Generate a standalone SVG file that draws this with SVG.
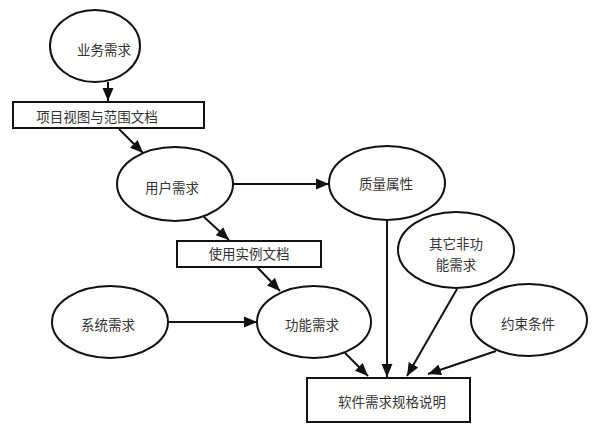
<svg xmlns="http://www.w3.org/2000/svg" width="609" height="438" viewBox="0 0 609 438">
<style>
.n{fill:#fff;stroke:#111;stroke-width:2}
.t{font-family:"Noto Sans CJK SC","Liberation Sans",sans-serif;font-size:13.5px;fill:#333;text-anchor:middle;dominant-baseline:central}
.c{stroke:#111;stroke-width:2;fill:none;marker-end:url(#ah)}
</style>
<defs>
<marker id="ah" markerUnits="userSpaceOnUse" markerWidth="14" markerHeight="14" viewBox="0 0 14 14" refX="13" refY="7" orient="auto">
<path d="M0,1.5 L13,7 L0,12.5 Z" fill="#111"/>
</marker>
</defs>
<rect width="609" height="438" fill="#fff"/>
<g id="connectors">
<line class="c" x1="108" y1="82" x2="108" y2="101"/>
<line class="c" x1="119" y1="129" x2="143" y2="153"/>
<line class="c" x1="233" y1="184" x2="329" y2="184"/>
<line class="c" x1="204" y1="217" x2="229" y2="240"/>
<line class="c" x1="257" y1="267" x2="280" y2="291"/>
<line class="c" x1="168" y1="322" x2="257" y2="322"/>
<line class="c" x1="387" y1="220" x2="387" y2="377"/>
<line class="c" x1="345" y1="353" x2="368" y2="376"/>
<line class="c" x1="457" y1="289" x2="407" y2="376"/>
<line class="c" x1="496" y1="351" x2="428" y2="374"/>
</g>
<g id="n1"><ellipse class="n" cx="95" cy="46" rx="45" ry="36"/><text class="t" x="104" y="49">业务需求</text></g>
<g id="n2"><rect class="n" x="13" y="102" width="191" height="26"/><text class="t" x="97" y="116">项目视图与范围文档</text></g>
<g id="n3"><ellipse class="n" cx="175" cy="184" rx="58" ry="37"/><text class="t" x="172" y="187">用户需求</text></g>
<g id="n4"><ellipse class="n" cx="387" cy="183" rx="58" ry="37"/><text class="t" x="386" y="183">质量属性</text></g>
<g id="n5"><rect class="n" x="177" y="241" width="144" height="26"/><text class="t" x="249" y="253">使用实例文档</text></g>
<g id="n6"><ellipse class="n" cx="456" cy="250" rx="58" ry="38"/><text class="t" x="456" y="243">其它非功</text><text class="t" x="456" y="264">能需求</text></g>
<g id="n7"><ellipse class="n" cx="110" cy="322" rx="58" ry="36"/><text class="t" x="108" y="324">系统需求</text></g>
<g id="n8"><ellipse class="n" cx="314" cy="322" rx="57" ry="36"/><text class="t" x="312" y="324">功能需求</text></g>
<g id="n9"><ellipse class="n" cx="529" cy="320" rx="58" ry="36"/><text class="t" x="528" y="323">约束条件</text></g>
<g id="n10"><rect class="n" x="307" y="378" width="163" height="44"/><text class="t" x="392" y="401">软件需求规格说明</text></g>
</svg>
